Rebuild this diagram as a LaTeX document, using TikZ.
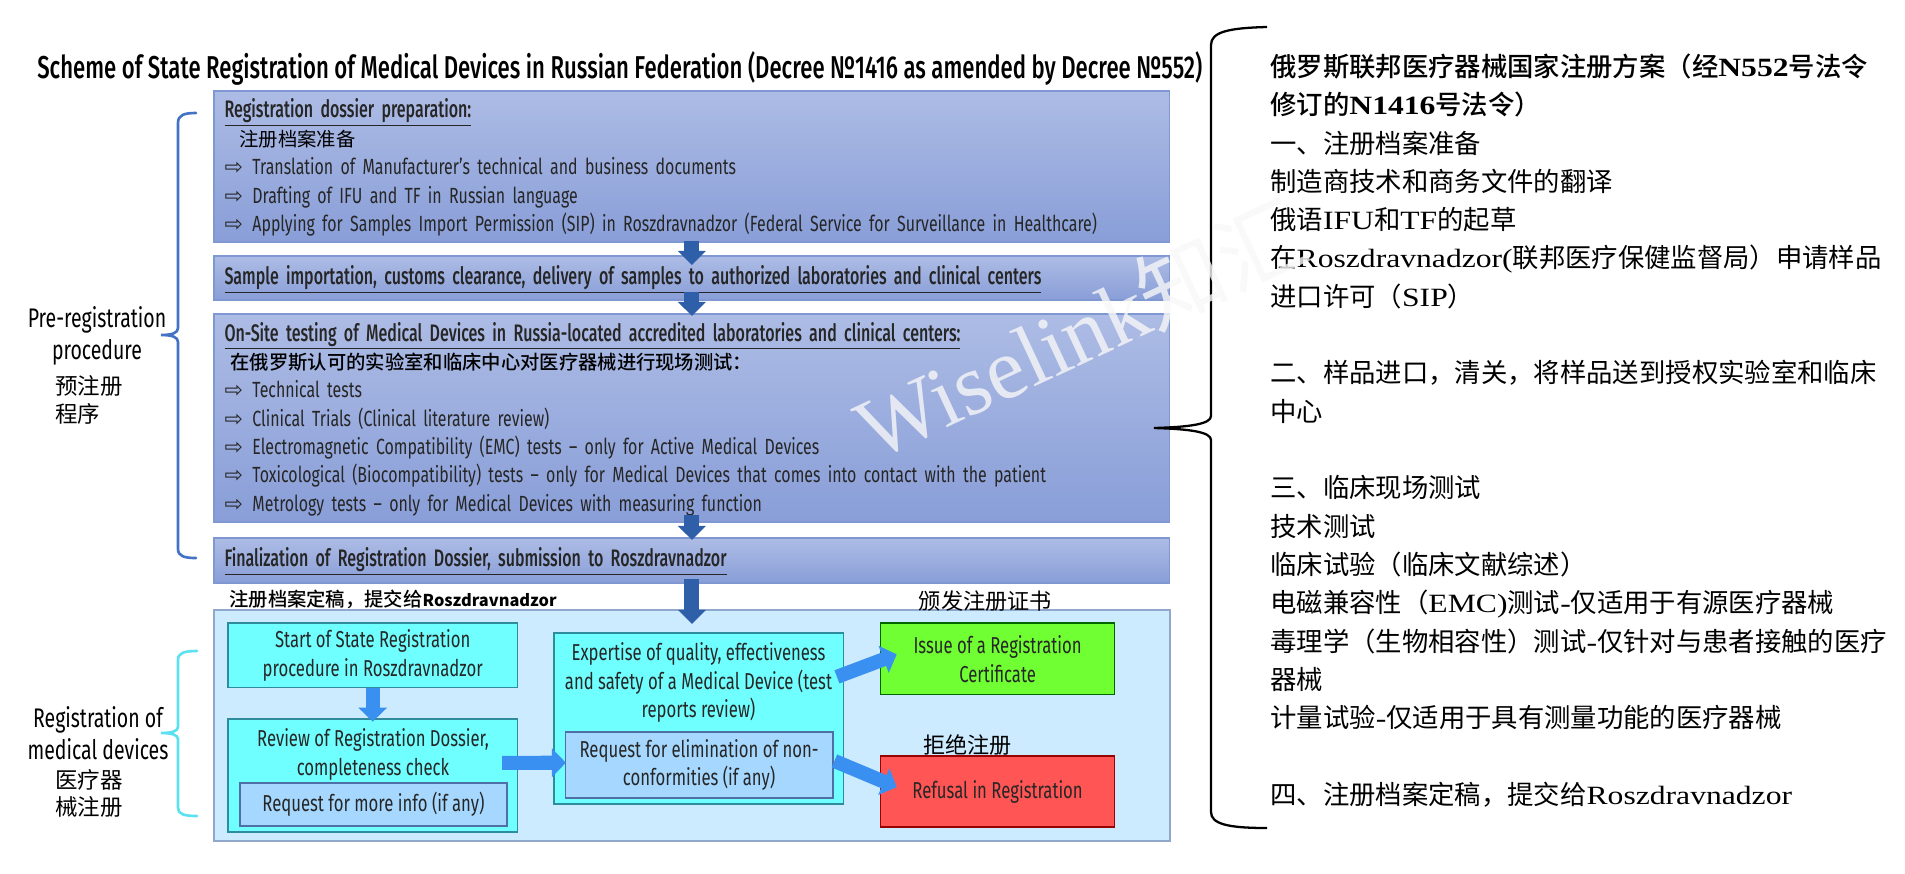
\documentclass[tikz,border=0pt]{standalone}
\usepackage{fontspec}
\usetikzlibrary{arrows.meta}
\setmainfont[FakeStretch=0.725]{Fira Sans}
\newfontfamily\headfont[FakeStretch=0.67, WordSpace=0.7]{Fira Sans Medium}
\newfontfamily\titlefont[FakeStretch=0.70]{Fira Sans Medium}
\newfontfamily\arrowfont{DejaVu Sans}
\newfontfamily\cjk{Noto Sans CJK SC}
\newfontfamily\cjkmed{Noto Sans CJK SC Medium}
\newfontfamily\zhlatin[FakeStretch=1.2]{Liberation Serif}
\newfontfamily\wmfont{Liberation Serif}
\newcommand{\zl}[1]{{\zhlatin #1}}
\newcommand{\itm}{\makebox[15.9pt][l]{\arrowfont\fontsize{12.5}{10}\selectfont ⇨}}
\newcommand{\hd}[1]{\rule{0pt}{12pt}\underline{\headfont\fontsize{13.6}{16.16}\selectfont #1}}
\definecolor{boxtop}{HTML}{ADBCE5}
\definecolor{boxbot}{HTML}{899ED8}
\definecolor{boxedge}{HTML}{7F98D2}
\definecolor{outerfill}{HTML}{CCEBFF}
\definecolor{outeredge}{HTML}{8FA8CC}
\definecolor{cyanfill}{HTML}{70FFFF}
\definecolor{cyanedge}{HTML}{2E8C9C}
\definecolor{reqfill}{HTML}{A6D8FF}
\definecolor{reqedge}{HTML}{4F6FA8}
\definecolor{darkarrow}{HTML}{2F5FA8}
\definecolor{lightarrow}{HTML}{3A90F0}
\tikzset{
	flowbox/.style={draw=boxedge, top color=boxtop, bottom color=boxbot, anchor=north west, outer sep=0pt,
		inner xsep=5.67pt, inner ysep=0pt, text width=18.7cm, minimum width=19.12cm, align=left, line width=0.7pt,
		font=\fontsize{12.5}{16.16}\selectfont, text=black!85},
	plainbox/.style={draw=#1, anchor=north west, outer sep=0pt, inner sep=0pt, line width=1pt, align=center,
		font=\fontsize{13.1}{16.4}\selectfont, text=black!85},
	boxtext/.style={inner sep=0pt, align=center, font=\fontsize{13.1}{16.4}\selectfont, text=black!85},
	zh/.style={inner sep=0pt, align=left, font=\cjk\fontsize{12.6}{15.5}\selectfont},
	sidelabel/.style={inner sep=0pt, align=center, font=\fontsize{15.3}{18.3}\selectfont},
	darkedge/.style={darkarrow, line width=8.5pt, -{Triangle[length=8pt, width=15.5pt]}},
	lightedge/.style={lightarrow, line width=8pt, -{Triangle[length=8pt, width=16pt]}},
	bracket/.style={line width=1.5pt, line cap=round}
}
\begin{document}
\begin{tikzpicture}[x=0.02cm, y=-0.02cm]
\useasboundingbox (0, 0) rectangle (1905, 873);

\node[inner sep=0pt, anchor=west, font=\titlefont\fontsize{18}{20}\selectfont] (title) at (37, 68) {Scheme of State Registration of Medical Devices in Russian Federation (Decree №1416 as amended by Decree №552)};

% upper boxes
\node[flowbox, minimum height=3.02cm] (prep) at (214, 91) {\hd{Registration dossier preparation:}\\
	\hspace*{8.5pt}{\color{black}\cjk\fontsize{11}{11}\selectfont 注册档案准备}\\
	\itm Translation of Manufacturer’s technical and business documents\\
	\itm Drafting of IFU and TF in Russian language\\
	\itm Applying for Samples Import Permission (SIP) in Roszdravnadzor (Federal Service for Surveillance in Healthcare)};
\node[flowbox, minimum height=0.88cm] (sample) at (214, 256) {\hd{Sample importation, customs clearance, delivery of samples to authorized laboratories and clinical centers}};
\node[flowbox, minimum height=4.16cm] (onsite) at (214, 314) {\hd{On-Site testing of Medical Devices in Russia-located accredited laboratories and clinical centers:}\\
	\hspace*{3.4pt}{\color{black}\cjkmed\fontsize{11}{11}\selectfont 在俄罗斯认可的实验室和临床中心对医疗器械进行现场测试：}\\
	\itm Technical tests\\
	\itm Clinical Trials (Clinical literature review)\\
	\itm Electromagnetic Compatibility (EMC) tests – only for Active Medical Devices\\
	\itm Toxicological (Biocompatibility) tests – only for Medical Devices that comes into contact with the patient\\
	\itm Metrology tests – only for Medical Devices with measuring function};
\node[flowbox, minimum height=0.9cm] (final) at (214, 538) {\hd{Finalization of Registration Dossier, submission to Roszdravnadzor}};

\node[zh, anchor=west, font=\cjkmed\fontsize{11}{11}\selectfont] (finalzh) at (229, 599) {注册档案定稿，提交给{\cjk\bfseries\fontsize{9.3}{11}\selectfont Roszdravnadzor}};

% registration stage
\node[plainbox=outeredge, fill=outerfill, minimum width=19.12cm, minimum height=4.62cm, line width=0.8pt] (stage) at (214, 610) {};
\node[plainbox=cyanedge, fill=cyanfill, minimum width=5.79cm, minimum height=1.29cm] (start) at (228, 623) {Start of State Registration\\procedure in Roszdravnadzor};
\node[plainbox=cyanedge, fill=cyanfill, minimum width=5.79cm, minimum height=2.26cm] (review) at (228, 719) {};
\node[boxtext] (reviewtext) at (373, 754.5) {Review of Registration Dossier,\\completeness check};
\node[plainbox=reqedge, fill=reqfill, minimum width=5.34cm, minimum height=0.86cm] (moreinfo) at (240, 783) {Request for more info (if any)};
\node[plainbox=cyanedge, fill=cyanfill, minimum width=5.79cm, minimum height=3.42cm] (expert) at (554, 633) {};
\node[boxtext] (experttext) at (698.5, 682.5) {Expertise of quality, effectiveness\\and safety of a Medical Device (test\\reports review)};
\node[plainbox=reqedge, fill=reqfill, minimum width=5.35cm, minimum height=1.32cm] (elim) at (565.4, 732) {Request for elimination of non-\\conformities (if any)};
\node[plainbox=black!60!green, fill={rgb,255:red,112;green,255;blue,51}, minimum width=4.68cm, minimum height=1.43cm] (issue) at (880.6, 623) {Issue of a Registration\\Certificate};
\node[plainbox=black!40!red, fill={rgb,255:red,255;green,85;blue,85}, minimum width=4.68cm, minimum height=1.42cm] (refuse) at (880.6, 756) {Refusal in Registration};

\node[zh, anchor=west] (issuezh) at (918.6, 600.7) {颁发注册证书};
\node[zh, anchor=west] (refusezh) at (923, 745) {拒绝注册};

% flow
\draw[darkedge] ([yshift=0.5pt]prep.south) -- ([yshift=-5.1pt]sample.north);
\draw[darkedge] ([yshift=4.7pt]sample.south) -- ([yshift=-1.1pt]onsite.north);
\draw[darkedge] ([yshift=4pt]onsite.south) -- ([yshift=-1.1pt]final.north);
\draw[darkedge] ([yshift=2.3pt]final.south) -- ([yshift=-7.9pt]stage.north);
\draw[lightedge] (start.south) -- ([yshift=-1.5pt]review.north);
\draw[lightedge] ([xshift=-8.7pt, yshift=7.2pt]review.east) -- ([xshift=0.3pt, yshift=1.3pt]elim.west);
\draw[lightedge] ([xshift=-3.7pt, yshift=23.7pt]expert.east) -- ([xshift=9.2pt, yshift=2.5pt]issue.west);
\draw[lightedge] ([xshift=0.9pt, yshift=2.3pt]elim.east) -- ([xshift=9.2pt, yshift=2.5pt]refuse.west);

% left labels
\node[sidelabel] (prelabel) at (97, 336) {Pre-registration\\procedure};
\node[zh, anchor=north west, font=\cjk\fontsize{12.8}{15.9}\selectfont] (prezh) at (55, 375) {预注册\\程序};
\node[sidelabel] (reglabel) at (98, 733) {Registration of\\medical devices};
\node[zh, anchor=north west, font=\cjk\fontsize{12.8}{15.5}\selectfont] (regzh) at (55, 769) {医疗器\\械注册};

\draw[bracket, color={rgb,255:red,68;green,114;blue,196}] (196, 113) .. controls (184, 113) and (178, 115) .. (178, 123) -- (178, 328) .. controls (178, 333) and (172, 335) .. (161, 335) .. controls (172, 335) and (178, 337) .. (178, 342) -- (178, 549) .. controls (178, 556) and (184, 558) .. (196, 558);
\draw[bracket, color={rgb,255:red,92;green,225;blue,240}] (197, 651) .. controls (184, 651) and (178, 653) .. (178, 660) -- (178, 727) .. controls (178, 731) and (172, 733) .. (161, 733) .. controls (172, 733) and (178, 735) .. (178, 739) -- (178, 808) .. controls (178, 814) and (184, 816) .. (197, 816);
\draw[line width=1.3pt, black] (1267, 27) .. controls (1228, 28) and (1211, 32) .. (1211, 45) -- (1211, 416) .. controls (1211, 424) and (1190, 427) .. (1154, 428) .. controls (1190, 429) and (1211, 432) .. (1211, 440) -- (1211, 812) .. controls (1211, 824) and (1228, 828) .. (1267, 828);

% right column
\node[zh, anchor=north west, font=\cjk\fontsize{15}{21.8}\selectfont] (zhnotes) at (1270, 53.5) {{\cjkmed 俄罗斯联邦医疗器械国家注册方案（经{\zhlatin\bfseries N552}号法令}\\
	{\cjkmed 修订的{\zhlatin\bfseries N1416}号法令）}\\
	一、注册档案准备\\
	制造商技术和商务文件的翻译\\
	俄语\zl{IFU}和\zl{TF}的起草\\
	在\zl{Roszdravnadzor(}联邦医疗保健监督局）申请样品\\
	进口许可（\zl{SIP}）\\
	~\\
	二、样品进口，清关，将样品送到授权实验室和临床\\
	中心\\
	~\\
	三、临床现场测试\\
	技术测试\\
	临床试验（临床文献综述）\\
	电磁兼容性（\zl{EMC)}测试\zl{-}仅适用于有源医疗器械\\
	毒理学（生物相容性）测试\zl{-}仅针对与患者接触的医疗\\
	器械\\
	计量试验\zl{-}仅适用于具有测量功能的医疗器械\\
	~\\
	四、注册档案定稿，提交给\zl{Roszdravnadzor}};

% watermark
\node[inner sep=0pt, anchor=base west, rotate=25, text=white!97!black, opacity=0.8, font=\wmfont\fontsize{49.5}{60}\selectfont] (mark) at (874, 462) {Wiselink{\cjk 知汇}};
\end{tikzpicture}
\end{document}
